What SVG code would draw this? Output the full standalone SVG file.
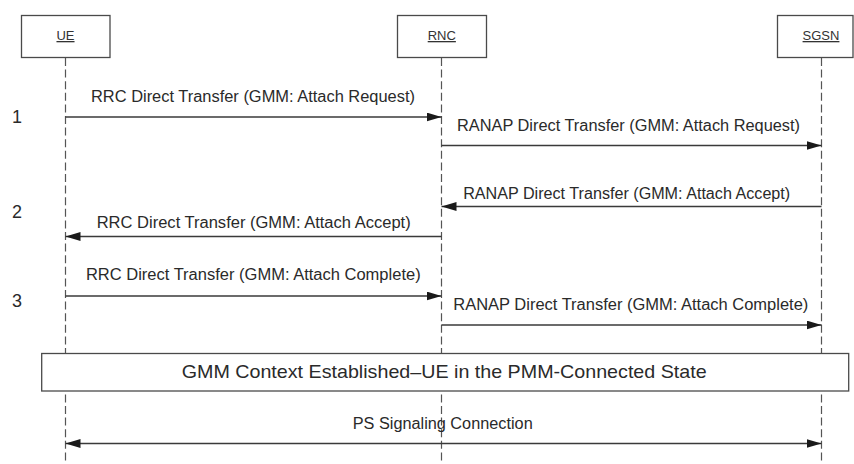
<svg xmlns="http://www.w3.org/2000/svg" width="854" height="464" viewBox="0 0 854 464">
  <defs>
    <marker id="arrow" markerUnits="userSpaceOnUse" markerWidth="16" markerHeight="10" refX="15" refY="4.5" orient="auto-start-reverse">
      <path d="M0,0 L15,4.5 L0,9 z" fill="#1a1a1a"/>
    </marker>
    <style>
      .box { fill: #fff; stroke: #4a4a4a; stroke-width: 1.3; }
      .life { stroke: #555; stroke-width: 1.2; stroke-dasharray: 8 3.6; fill: none; }
      .msg { stroke: #3a3a3a; stroke-width: 1.3; fill: none; marker-end: url(#arrow); }
      .name { font-family: "Liberation Sans", Arial, sans-serif; font-size: 13px; fill: #333; text-anchor: middle; text-decoration: underline; }
      .lbl { font-family: "Liberation Sans", Arial, sans-serif; font-size: 16px; fill: #2a2a2a; text-anchor: middle; }
      .step { font-family: "Liberation Sans", Arial, sans-serif; font-size: 18px; fill: #2a2a2a; text-anchor: middle; }
    </style>
  </defs>
  <rect width="854" height="464" fill="#fff"/>

  <!-- lifelines -->
  <g id="lifelines">
    <line class="life" x1="65.5" y1="58" x2="65.5" y2="464"/>
    <line class="life" x1="441.5" y1="58" x2="441.5" y2="464"/>
    <line class="life" x1="821.5" y1="58" x2="821.5" y2="464"/>
  </g>

  <!-- participants -->
  <g id="ue">
    <rect class="box" x="21.5" y="15.5" width="88.5" height="42"/>
    <text class="name" x="65.5" y="40">UE</text>
  </g>
  <g id="rnc">
    <rect class="box" x="397.5" y="15.5" width="89" height="42"/>
    <text class="name" x="441.8" y="40">RNC</text>
  </g>
  <g id="sgsn">
    <rect class="box" x="777.5" y="15.5" width="75.5" height="42"/>
    <text class="name" x="821" y="40">SGSN</text>
  </g>

  <!-- step numbers -->
  <g id="steps">
    <text class="step" x="17" y="123">1</text>
    <text class="step" x="17" y="217.5">2</text>
    <text class="step" x="17" y="306.5">3</text>
  </g>

  <!-- messages -->
  <g id="connectors">
    <line class="msg" x1="65.5" y1="117" x2="441.5" y2="117"/>
    <text class="lbl" x="253" y="102" textLength="324" lengthAdjust="spacingAndGlyphs">RRC Direct Transfer (GMM: Attach Request)</text>

    <line class="msg" x1="441.5" y1="145.5" x2="821.5" y2="145.5"/>
    <text class="lbl" x="628.5" y="131" textLength="343" lengthAdjust="spacingAndGlyphs">RANAP Direct Transfer (GMM: Attach Request)</text>

    <line class="msg" x1="821.5" y1="206.5" x2="441.5" y2="206.5"/>
    <text class="lbl" x="626.7" y="198.5" textLength="327" lengthAdjust="spacingAndGlyphs">RANAP Direct Transfer (GMM: Attach Accept)</text>

    <line class="msg" x1="441.5" y1="236.5" x2="65.5" y2="236.5"/>
    <text class="lbl" x="253.7" y="227.5" textLength="314" lengthAdjust="spacingAndGlyphs">RRC Direct Transfer (GMM: Attach Accept)</text>

    <line class="msg" x1="65.5" y1="296" x2="441.5" y2="296"/>
    <text class="lbl" x="253.3" y="280" textLength="334.7" lengthAdjust="spacingAndGlyphs">RRC Direct Transfer (GMM: Attach Complete)</text>

    <line class="msg" x1="441.5" y1="325" x2="821.5" y2="325"/>
    <text class="lbl" x="630.8" y="309.5" textLength="355" lengthAdjust="spacingAndGlyphs">RANAP Direct Transfer (GMM: Attach Complete)</text>

    <line class="msg" x1="65.5" y1="443.5" x2="821.5" y2="443.5" style="marker-start: url(#arrow)"/>
    <text class="lbl" x="442.7" y="429" textLength="180" lengthAdjust="spacingAndGlyphs">PS Signaling Connection</text>
  </g>

  <!-- state banner -->
  <g id="gmm-state">
    <rect class="box" x="41.7" y="353.5" width="807" height="37.5"/>
    <text class="lbl" x="444.2" y="377.7" style="font-size:19px" textLength="525" lengthAdjust="spacingAndGlyphs">GMM Context Established–UE in the PMM-Connected State</text>
  </g>
</svg>
